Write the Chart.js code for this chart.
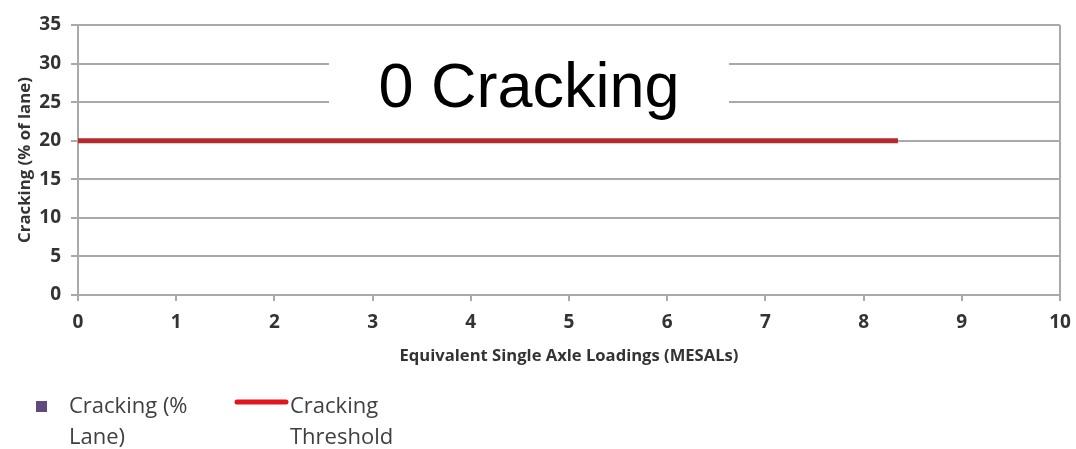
<!DOCTYPE html>
<html>
<head>
<meta charset="utf-8">
<script src="https://cdn.jsdelivr.net/npm/chart.js@4.4.1/dist/chart.umd.min.js"></script>
<style>
  html, body { margin: 0; padding: 0; background: #ffffff; }
  #wrap { width: 1076px; height: 449px; position: relative; }
</style>
</head>
<body>
<div id="wrap"><canvas id="chart" width="1076" height="449"></canvas></div>
<script>
// Recorded cracking: none observed over the loading range
const crackingX = [];
const crackingY = [];

// Design threshold for cracking, % of lane
const thresholdX = [0, 8.35];
const thresholdY = [20, 20];

const seriesNames = ['Cracking (% Lane)', 'Cracking Threshold'];
const legendLines = [['Cracking (%', 'Lane)'], ['Cracking', 'Threshold']];
const calloutText = '0 Cracking';

const xTitle = 'Equivalent Single Axle Loadings (MESALs)';
const yTitle = 'Cracking (% of lane)';
const xMin = 0, xMax = 10, xStep = 1;
const yMin = 0, yMax = 35, yStep = 5;

const toPoints = (xs, ys) => xs.map((x, i) => ({ x: x, y: ys[i] }));

const GRID = '#a9a9a9';
const TEXT = '#333333';

// Centered callout on a white box across the upper gridlines
const calloutPlugin = {
  id: 'callout',
  afterDatasetsDraw(chart) {
    const { ctx, scales } = chart;
    const cx = (scales.x.left + scales.x.right) / 2 - 40;
    const yTop = scales.y.getPixelForValue(32.5);
    const yBot = scales.y.getPixelForValue(22.5);
    ctx.save();
    ctx.fillStyle = '#ffffff';
    ctx.fillRect(cx - 200, yTop, 400, yBot - yTop);
    ctx.fillStyle = '#000000';
    ctx.font = '63px "Liberation Sans", Arial, sans-serif';
    ctx.textAlign = 'center';
    ctx.textBaseline = 'alphabetic';
    ctx.fillText(calloutText, cx, 107);
    ctx.restore();
  }
};

// Two-column legend below the axis, labels wrapped onto two lines
const legendPlugin = {
  id: 'wrappedLegend',
  afterDraw(chart) {
    const { ctx } = chart;
    const ds = chart.data.datasets;
    ctx.save();
    ctx.font = '22px "Open Sans", sans-serif';
    ctx.textBaseline = 'alphabetic';
    ctx.textAlign = 'left';
    // first entry: square marker
    ctx.fillStyle = ds[0].pointBackgroundColor;
    ctx.fillRect(36, 401, 11, 11);
    ctx.fillStyle = '#404040';
    legendLines[0].forEach((t, i) => ctx.fillText(t, 69, 413 + i * 31));
    // second entry: line swatch
    ctx.strokeStyle = '#e3141c';
    ctx.lineWidth = 5;
    ctx.lineCap = 'round';
    ctx.beginPath();
    ctx.moveTo(237, 402);
    ctx.lineTo(286, 402);
    ctx.stroke();
    legendLines[1].forEach((t, i) => ctx.fillText(t, 290, 413 + i * 31));
    ctx.restore();
  }
};

new Chart(document.getElementById('chart'), {
  type: 'scatter',
  data: {
    datasets: [
      {
        label: seriesNames[0],
        data: toPoints(crackingX, crackingY),
        pointStyle: 'rect',
        pointRadius: 5,
        pointBackgroundColor: '#604a7b',
        pointBorderColor: '#604a7b',
        showLine: false
      },
      {
        label: seriesNames[1],
        data: toPoints(thresholdX, thresholdY),
        showLine: true,
        borderColor: '#b22a2d',
        borderWidth: 5,
        borderCapStyle: 'butt',
        pointRadius: 0
      }
    ]
  },
  options: {
    responsive: false,
    animation: false,
    layout: { padding: { left: 15, top: 25, right: 16, bottom: 83 } },
    plugins: {
      legend: { display: false },
      tooltip: { enabled: false }
    },
    scales: {
      x: {
        type: 'linear',
        min: xMin, max: xMax,
        afterFit: s => { s.height = 71; s.paddingLeft = 0; s.paddingRight = 0; },
        ticks: {
          stepSize: xStep,
          color: TEXT,
          padding: 10,
          font: { family: '"Open Sans", sans-serif', size: 19, weight: 'bold' }
        },
        grid: {
          color: c => (c.tick && c.tick.value === xMax ? GRID : 'rgba(0,0,0,0)'),
          tickColor: GRID,
          lineWidth: 2,
          tickLength: 6
        },
        border: { display: true, color: GRID, width: 2 },
        title: {
          display: true,
          text: xTitle,
          color: TEXT,
          padding: 0,
          font: { family: '"Open Sans", sans-serif', size: 16.6, weight: 'bold' }
        }
      },
      y: {
        type: 'linear',
        min: yMin, max: yMax,
        afterFit: s => { s.width = 63; },
        ticks: {
          stepSize: yStep,
          color: TEXT,
          padding: 10,
          font: { family: '"Open Sans", sans-serif', size: 19, weight: 'bold' }
        },
        grid: {
          color: GRID,
          lineWidth: 2,
          tickLength: 7
        },
        border: { display: true, color: GRID, width: 2 },
        title: {
          display: true,
          text: yTitle,
          color: TEXT,
          padding: 0,
          font: { family: '"Open Sans", sans-serif', size: 16.8, weight: 'bold' }
        }
      }
    }
  },
  plugins: [calloutPlugin, legendPlugin]
});
</script>
</body>
</html>
